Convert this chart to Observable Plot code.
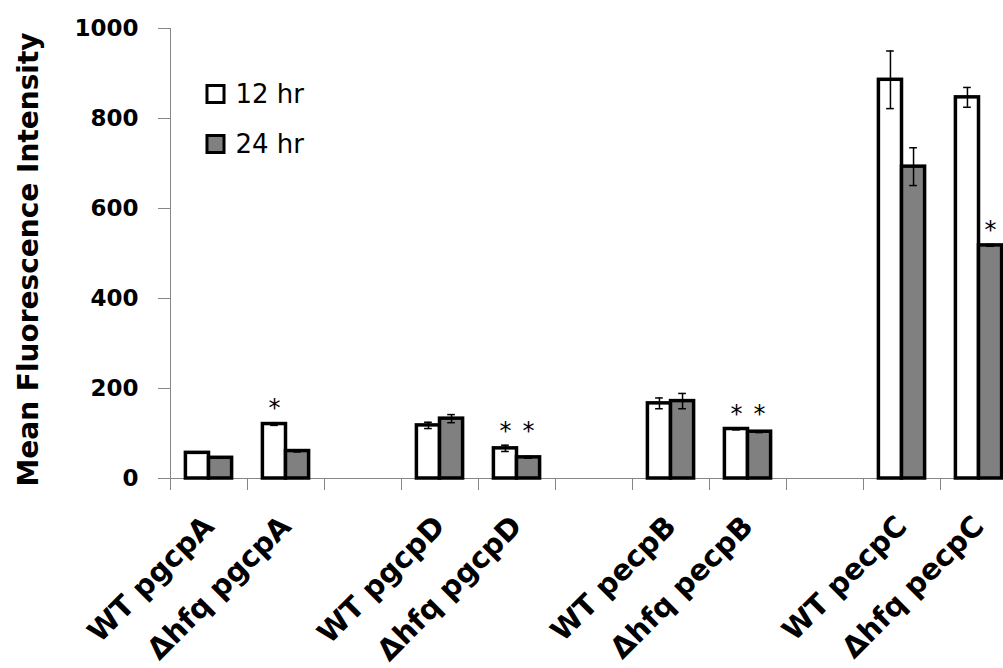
<!DOCTYPE html>
<html>
<head>
<meta charset="utf-8">
<script src="https://cdn.jsdelivr.net/npm/d3@7"></script>
<script src="https://cdn.jsdelivr.net/npm/@observablehq/plot@0.6"></script>
<style>
html, body { margin: 0; padding: 0; background: #fff; overflow: hidden; }
#chart svg { display: block; }
</style>
</head>
<body>
<div id="chart"></div>
<script>
// ---- data ----
const categories = ["WT pgcpA", "Δhfq pgcpA", "", "WT pgcpD", "Δhfq pgcpD", "", "WT pecpB", "Δhfq pecpB", "", "WT pecpC", "Δhfq pecpC"];
const series = ["12 hr", "24 hr"];
const values12 = [57, 121, null, 118, 67, null, 167, 110, null, 886, 847];
const errors12 = [1, 3, null, 7, 7, null, 12, 2, null, 64, 22];
const values24 = [46, 61, null, 133, 47, null, 172, 104, null, 693, 518];
const errors24 = [1, 2, null, 9, 2, null, 17, 2, null, 42, 2];
const signif12 = [false, true, false, false, true, false, false, true, false, false, false];
const signif24 = [false, false, false, false, true, false, false, true, false, false, true];
const yTicks = [0, 200, 400, 600, 800, 1000];
const yTitle = "Mean Fluorescence Intensity";

// ---- styling ----
const fills = {"12 hr": "#ffffff", "24 hr": "#808080"};
const axisGray = "#868686";
const barOffset = 0.2;   // gap before the first bar inside a category slot
const barWidth = 0.3;    // width of one bar, in category slots
const capHalf = 0.05;

// ---- derived rows ----
const seriesData = [[values12, errors12, signif12], [values24, errors24, signif24]];
const rows = [];
categories.forEach((c, i) => {
  // height of the marker that flags significance in this category
  const sigTops = seriesData.filter(([v, e, s]) => s[i]).map(([v, e]) => v[i] + e[i]);
  seriesData.forEach(([vals, errs, sig], k) => {
    if (vals[i] == null) return;
    const x1 = i + barOffset + k * barWidth;
    rows.push({
      category: c, series: series[k], value: vals[i], error: errs[i], signif: sig[i],
      x1, x2: x1 + barWidth, xc: x1 + barWidth / 2,
      starY: sigTops.length ? Math.max(...sigTops) : null
    });
  });
});
const caps = rows.flatMap(d => [{...d, y: d.value + d.error}, {...d, y: d.value - d.error}]);
const stars = rows.filter(d => d.signif);

const bold = {fontFamily: "DejaVu Sans", fontWeight: "bold"};
const marks = [
  Plot.ruleY([0], {stroke: axisGray, strokeWidth: 1}),
  Plot.ruleX([0], {stroke: axisGray, strokeWidth: 1}),
  Plot.axisY({ticks: yTicks, tickFormat: d => String(d), tickSize: 12, tickPadding: 20, stroke: axisGray, fill: "#000", fontSize: 23, ...bold, label: null}),
  Plot.axisX({ticks: d3.range(categories.length + 1), tickSize: 12, tickFormat: () => "", stroke: axisGray, label: null}),
  Plot.axisX({ticks: categories.map((_, i) => i + 0.5), tickFormat: d => categories[Math.floor(d)], tickSize: 0, tickPadding: 43, tickRotate: -45, fill: "#000", fontSize: 29, ...bold, label: null}),
  Plot.rect(rows, {x1: "x1", x2: "x2", y1: 0, y2: "value", fill: d => fills[d.series], stroke: "#000", strokeWidth: 3.5, strokeLinejoin: "miter"}),
  Plot.ruleX(rows, {x: "xc", y1: d => d.value - d.error, y2: d => d.value + d.error, stroke: "#000", strokeWidth: 1.5}),
  Plot.ruleY(caps, {y: "y", x1: d => d.xc - capHalf, x2: d => d.xc + capHalf, stroke: "#000", strokeWidth: 1.5}),
  Plot.text(stars, {x: "xc", y: "starY", text: () => "*", dy: -14, fontSize: 24, fontFamily: "DejaVu Sans", fill: "#000"}),
  Plot.text([yTitle], {text: d => d, frameAnchor: "left", textAnchor: "middle", lineAnchor: "middle", dx: -141, dy: 6, rotate: -90, fontSize: 28, ...bold, fill: "#000"})
];
series.forEach((s, k) => {
  marks.push(Plot.dot([s], {frameAnchor: "top-left", dx: 45, dy: 65.5 + 50 * k, symbol: "square", r: 9.6, fill: fills[s], stroke: "#000", strokeWidth: 3}));
  marks.push(Plot.text([s], {text: d => d, frameAnchor: "top-left", dx: 65, dy: 66 + 50 * k, textAnchor: "start", lineAnchor: "middle", fontSize: 26, fontFamily: "DejaVu Sans", fill: "#000"}));
});

const chart = Plot.plot({
  width: 1003,
  height: 668,
  marginTop: 28,
  marginBottom: 190,
  marginLeft: 170,
  marginRight: -14,
  style: {background: "#fff", fontFamily: "DejaVu Sans"},
  x: {type: "linear", domain: [0, categories.length]},
  y: {domain: [0, 1000]},
  marks
});
document.getElementById("chart").append(chart);
</script>
</body>
</html>
